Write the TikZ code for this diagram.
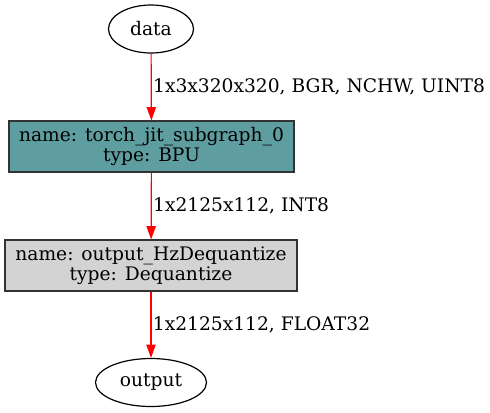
\documentclass[tikz,border=0pt]{standalone}
\usepackage{fontspec}
\setmainfont{DejaVu Serif}
\usepackage{tikz}
\usetikzlibrary{shapes.geometric, arrows.meta}
\definecolor{cadetblue}{HTML}{5F9EA0}
\definecolor{lightgray}{HTML}{D3D3D3}

\begin{document}
\begin{tikzpicture}[x=0.75pt, y=-0.75pt,
    font=\fontsize{14}{15}\selectfont,
    io/.style={draw, ellipse, line width=0.9pt, inner sep=0pt, minimum height=36pt},
    op/.style={draw=black!80, line width=0.9pt, align=center, inner sep=0pt, minimum height=38.25pt},
    flow/.style={red, line width=0.9pt, -{Triangle[length=10pt, width=7pt]}},
    tensorlabel/.style={midway, right, inner sep=1pt, text=black}]
    \useasboundingbox (0,0) rectangle (490,412);
    \node[io, minimum width=63.75pt] (data) at (151,29) {data};
    \node[op, fill=cadetblue, minimum width=213.75pt] (bpu) at (151.5,146.5) {name: torch\_jit\_subgraph\_0\\type: BPU};
    \node[op, fill=lightgray, minimum width=219pt] (deq) at (151,265.5) {name: output\_HzDequantize\\type: Dequantize};
    \node[io, minimum width=83.25pt] (output) at (151,382.5) {output};
    \draw[flow] (data) -- (bpu) node[tensorlabel] {1x3x320x320, BGR, NCHW, UINT8};
    \draw[flow] (bpu) -- (deq) node[tensorlabel] {1x2125x112, INT8};
    \draw[flow] (deq) -- (output) node[tensorlabel] {1x2125x112, FLOAT32};
\end{tikzpicture}
\end{document}
